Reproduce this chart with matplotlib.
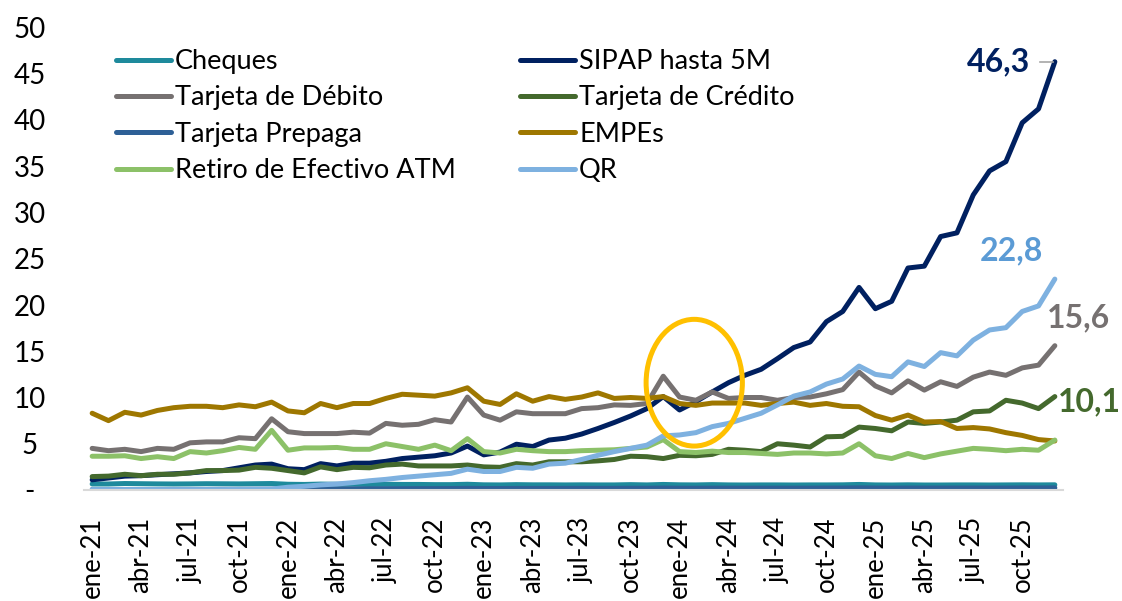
import matplotlib
matplotlib.use("Agg")
import matplotlib.pyplot as plt
from matplotlib.patches import Ellipse

# ---------------- data ----------------
meses = ["ene", "feb", "mar", "abr", "may", "jun", "jul", "ago", "sep", "oct", "nov", "dic"]
years = ["21", "22", "23", "24", "25"]
categories = [f"{m}-{y}" for y in years for m in meses]

cheques = [0.65, 0.65, 0.70, 0.68, 0.66, 0.65, 0.66, 0.68, 0.67, 0.66, 0.68, 0.70,
           0.62, 0.60, 0.64, 0.62, 0.62, 0.60, 0.62, 0.60, 0.60, 0.58, 0.58, 0.62,
           0.56, 0.55, 0.58, 0.56, 0.56, 0.55, 0.56, 0.55, 0.55, 0.58, 0.55, 0.60,
           0.56, 0.55, 0.58, 0.55, 0.54, 0.55, 0.55, 0.54, 0.55, 0.55, 0.56, 0.60,
           0.55, 0.54, 0.56, 0.54, 0.54, 0.55, 0.55, 0.54, 0.55, 0.56, 0.55, 0.56]

sipap = [1.1, 1.3, 1.5, 1.55, 1.65, 1.75, 1.85, 2.0, 2.1, 2.4, 2.7, 2.8,
         2.3, 2.2, 2.85, 2.6, 2.9, 2.9, 3.1, 3.4, 3.55, 3.7, 4.0, 4.75,
         3.8, 4.1, 4.95, 4.7, 5.4, 5.6, 6.05, 6.65, 7.3, 8.0, 8.8, 10.1,
         8.65, 9.55, 10.6, 11.6, 12.4, 13.05, 14.2, 15.4, 16.0, 18.2, 19.3, 21.9,
         19.6, 20.4, 24.0, 24.2, 27.4, 27.8, 31.9, 34.5, 35.5, 39.7, 41.2, 46.3]

debito = [4.5, 4.25, 4.4, 4.15, 4.5, 4.4, 5.1, 5.2, 5.2, 5.65, 5.55, 7.7,
          6.3, 6.1, 6.1, 6.1, 6.25, 6.15, 7.2, 7.0, 7.1, 7.6, 7.35, 10.05,
          8.1, 7.55, 8.45, 8.25, 8.25, 8.25, 8.8, 8.9, 9.2, 9.15, 9.35, 12.3,
          10.05, 9.7, 10.6, 9.9, 10.0, 10.0, 9.7, 10.0, 10.05, 10.4, 10.85, 12.75,
          11.25, 10.5, 11.8, 10.8, 11.7, 11.2, 12.2, 12.75, 12.4, 13.2, 13.5, 15.6]

credito = [1.45, 1.5, 1.7, 1.55, 1.7, 1.7, 1.85, 2.1, 2.1, 2.15, 2.45, 2.35,
           2.1, 1.85, 2.5, 2.2, 2.45, 2.4, 2.7, 2.8, 2.6, 2.6, 2.6, 2.7,
           2.5, 2.45, 2.85, 2.7, 3.05, 3.05, 3.05, 3.15, 3.3, 3.65, 3.6, 3.4,
           3.75, 3.7, 3.85, 4.4, 4.3, 4.15, 5.0, 4.85, 4.65, 5.75, 5.8, 6.8,
           6.65, 6.4, 7.35, 7.2, 7.35, 7.55, 8.45, 8.55, 9.7, 9.4, 8.8, 10.1]

prepaga = [0.05, 0.05, 0.05, 0.05, 0.05, 0.06, 0.06, 0.06, 0.07, 0.07, 0.08, 0.09,
           0.10, 0.10, 0.11, 0.12, 0.12, 0.13, 0.14, 0.14, 0.15, 0.15, 0.16, 0.18,
           0.16, 0.16, 0.17, 0.17, 0.17, 0.18, 0.18, 0.18, 0.18, 0.19, 0.19, 0.21,
           0.19, 0.19, 0.20, 0.20, 0.20, 0.20, 0.20, 0.20, 0.20, 0.21, 0.21, 0.23,
           0.21, 0.20, 0.21, 0.21, 0.21, 0.21, 0.21, 0.21, 0.21, 0.22, 0.22, 0.23]

empes = [8.3, 7.5, 8.4, 8.1, 8.6, 8.9, 9.05, 9.05, 8.9, 9.2, 9.0, 9.5,
         8.55, 8.35, 9.35, 8.9, 9.35, 9.35, 9.9, 10.35, 10.25, 10.15, 10.5, 11.05,
         9.6, 9.25, 10.4, 9.6, 10.1, 9.8, 10.05, 10.5, 9.9, 10.0, 9.9, 10.1,
         9.35, 9.15, 9.4, 9.4, 9.4, 9.15, 9.35, 9.5, 9.15, 9.35, 9.05, 9.0,
         8.05, 7.55, 8.1, 7.35, 7.4, 6.65, 6.75, 6.6, 6.2, 5.9, 5.45, 5.3]

atm = [3.65, 3.65, 3.7, 3.4, 3.6, 3.4, 4.15, 4.0, 4.25, 4.6, 4.4, 6.45,
       4.3, 4.55, 4.55, 4.6, 4.4, 4.4, 5.0, 4.7, 4.4, 4.85, 4.25, 5.55,
       4.15, 4.0, 4.4, 4.25, 4.15, 4.15, 4.25, 4.3, 4.35, 4.5, 4.65, 5.45,
       4.15, 4.05, 4.2, 4.05, 4.05, 3.95, 3.85, 4.0, 4.0, 3.9, 4.0, 5.0,
       3.7, 3.4, 3.95, 3.5, 3.9, 4.2, 4.5, 4.4, 4.25, 4.4, 4.3, 5.4]

qr = [0.05, 0.05, 0.05, 0.05, 0.05, 0.05, 0.05, 0.05, 0.05, 0.06, 0.08, 0.10,
      0.3, 0.4, 0.55, 0.65, 0.8, 1.0, 1.15, 1.35, 1.5, 1.65, 1.8, 2.25,
      2.0, 2.0, 2.45, 2.35, 2.8, 2.9, 3.3, 3.75, 4.15, 4.5, 4.85, 5.85,
      5.95, 6.2, 6.85, 7.2, 7.75, 8.3, 9.2, 10.15, 10.6, 11.45, 12.0, 13.4,
      12.5, 12.25, 13.85, 13.35, 14.85, 14.5, 16.2, 17.3, 17.55, 19.3, 19.9, 22.8]

series_names = ["Cheques", "SIPAP hasta 5M", "Tarjeta de Débito", "Tarjeta de Crédito",
                "Tarjeta Prepaga", "EMPEs", "Retiro de Efectivo ATM", "QR"]
series_values = [cheques, sipap, debito, credito, prepaga, empes, atm, qr]
series_colors = ["#1E8A9C", "#002060", "#767171", "#44692D",
                 "#2E6096", "#9E7700", "#8CC168", "#7EB1E0"]

y_ticks = [0, 5, 10, 15, 20, 25, 30, 35, 40, 45, 50]
y_ticklabels = ["-", "5", "10", "15", "20", "25", "30", "35", "40", "45", "50"]

# ---------------- figure ----------------
plt.rcParams["font.family"] = ["Lato", "DejaVu Sans"]

W, H = 1122, 601
fig = plt.figure(figsize=(W / 100, H / 100), dpi=100)
ax = fig.add_axes([84 / W, (H - 490) / H, (1063 - 84) / W, (490 - 27.5) / H])

x = list(range(len(categories)))
handles = {}
for name, vals, col in zip(series_names, series_values, series_colors):
    ln, = ax.plot(x, vals, color=col, lw=3.6, solid_joinstyle="round",
                  solid_capstyle="round", label=name)
    handles[name] = ln

ax.set_xlim(-0.5, len(categories) - 0.5)
ax.set_ylim(0, 50)

for s in ["top", "right", "left"]:
    ax.spines[s].set_visible(False)
ax.spines["bottom"].set_color("#D9D9D9")
ax.spines["bottom"].set_linewidth(1.5)

ax.set_yticks(y_ticks)
ax.set_yticklabels(y_ticklabels, fontsize=20)
for lab in ax.get_yticklabels():
    lab.set_horizontalalignment("center")
ax.tick_params(axis="y", length=0, pad=39)

xt = x[::3]
ax.set_xticks(xt)
ax.set_xticklabels([categories[i] for i in xt], rotation=90, fontsize=18.5,
                   va="top", ha="center")
ax.tick_params(axis="x", length=0, pad=19)

# legend (column-major order)
leg_order = ["Cheques", "Tarjeta de Débito", "Tarjeta Prepaga", "Retiro de Efectivo ATM",
             "SIPAP hasta 5M", "Tarjeta de Crédito", "EMPEs", "QR"]
leg = fig.legend([handles[n] for n in leg_order], leg_order, ncol=2, frameon=False,
                 loc="upper left", bbox_to_anchor=(116 / W, 1 - 49 / H),
                 fontsize=19.5, handlelength=2.03, handletextpad=0.15,
                 columnspacing=2.37, labelspacing=0.42, borderpad=0, borderaxespad=0)

# end-value labels
last = len(categories) - 1
ax.annotate("46,3", xy=(last, sipap[-1]), xytext=(-25, 0), textcoords="offset pixels",
            ha="right", va="center", fontsize=23, fontweight="bold", color="#002060")
ax.plot([last - 0.9, last - 0.1], [sipap[-1], sipap[-1]], color="#A6A6A6", lw=1.2)
ax.annotate("22,8", xy=(last, qr[-1]), xytext=(-12, 28), textcoords="offset pixels",
            ha="right", va="center", fontsize=23, fontweight="bold", color="#5B9BD5")
ax.annotate("15,6", xy=(last, debito[-1]), xytext=(-8, 28), textcoords="offset pixels",
            ha="left", va="center", fontsize=23, fontweight="bold", color="#767171")
ax.annotate("10,1", xy=(last, credito[-1]), xytext=(3, -5), textcoords="offset pixels",
            ha="left", va="center", fontsize=23, fontweight="bold", color="#44692D")

# highlight ellipse
ax.add_patch(Ellipse((36.9, 11.6), width=5.9, height=13.7, fill=False,
                     edgecolor="#FFC000", lw=3.6, zorder=5))

fig.savefig("out.png", dpi=100)
